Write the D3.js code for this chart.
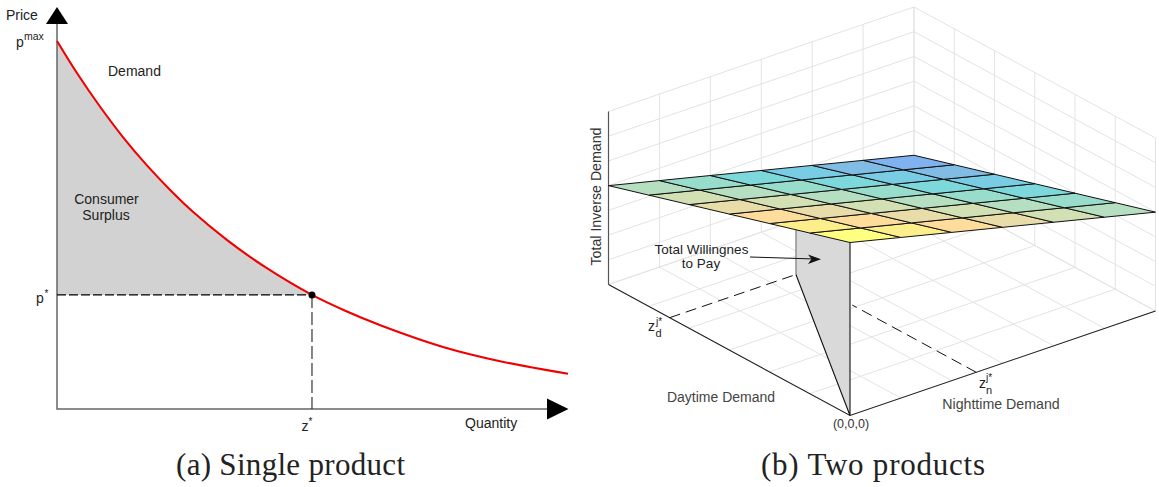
<!DOCTYPE html>
<html>
<head>
<meta charset="utf-8">
<script src="https://d3js.org/d3.v7.min.js"></script>
<style>
  body { margin: 0; background: #fff; }
  text { font-family: "Liberation Sans", sans-serif; fill: #222; }
  .caption { font-family: "Liberation Serif", serif; font-size: 31px; fill: #222; }
</style>
</head>
<body>
<svg id="chart" width="1159" height="487"></svg>
<script>
// Panel (a): demand curve
const quantity = [0, 3.9, 8.4, 12.9, 17.6, 22.1, 26.6, 33.3, 40.7, 49.9, 56.4, 63.4, 75.7, 86.7, 100];
const price = [100, 91.3, 82.2, 73.9, 66.2, 59.6, 53.6, 45.9, 38.6, 31, 26.7, 22.7, 16.8, 13, 9.6];
const zStar = 49.9;
const pStar = 31;

// Panel (b): surface heights, rows = daytime steps, columns = nighttime steps
const dayTicks = [0, 1, 2, 3, 4, 5, 6];
const nightTicks = [0, 1, 2, 3, 4, 5, 6];
const heightTicks = [0, 1, 2, 3, 4, 5, 6, 7];
const surfaceZ = [
    [7, 6.5, 6, 5.5, 5, 4.5, 4],
    [6.5, 6, 5.5, 5, 4.5, 4, 3.5],
    [6, 5.5, 5, 4.5, 4, 3.5, 3],
    [5.5, 5, 4.5, 4, 3.5, 3, 2.5],
    [5, 4.5, 4, 3.5, 3, 2.5, 2],
    [4.5, 4, 3.5, 3, 2.5, 2, 1.5],
    [4, 3.5, 3, 2.5, 2, 1.5, 1]
];
const colorLevels = [6.5, 6, 5.5, 5, 4.5, 4, 3.5, 3, 2.5, 2, 1.5];
const colorValues = ["#ffff80", "#fdee8c", "#fddc9c", "#e8dca8", "#d2e0b4", "#b5dfc0", "#98dccc", "#7dd8dc", "#78cce4", "#80bce4", "#7fb2ee"];
const dayStar = 4.48;
const nightStar = 2.48;
const starHeight = 3.52;

const svg = d3.select("#chart");

// ---------- Panel (a) ----------
const x = d3.scaleLinear().domain([0, 100]).range([57, 568]);
const y = d3.scaleLinear().domain([0, 100]).range([409, 41]);
const demand = quantity.map((q, i) => ({ q: q, p: price[i] }));

const left = svg.append("g");

left.append("path")
    .datum(demand.filter(d => d.q <= zStar))
    .attr("fill", "#d2d2d2")
    .attr("d", d3.area().curve(d3.curveCatmullRom)
        .x(d => x(d.q))
        .y0(y(pStar))
        .y1(d => y(d.p)));

left.append("path")
    .attr("d", `M${x(0)},24V${y(0)}H548`)
    .attr("fill", "none")
    .attr("stroke", "#666")
    .attr("stroke-width", 1.5);

left.append("path")
    .attr("d", "M57,7L68,24H46Z")
    .attr("fill", "#000");
left.append("path")
    .attr("d", "M568.5,409L547,398.5V419.5Z")
    .attr("fill", "#000");

left.append("path")
    .attr("d", `M${x(0)},${y(pStar)}H${x(zStar)}`)
    .attr("stroke", "#000")
    .attr("stroke-width", 1.1)
    .attr("stroke-dasharray", "9,3");
left.append("path")
    .attr("d", `M${x(zStar)},${y(pStar)}V${y(0)}`)
    .attr("stroke", "#222")
    .attr("stroke-width", 1.1)
    .attr("stroke-dasharray", "13,4");

left.append("path")
    .datum(demand)
    .attr("fill", "none")
    .attr("stroke", "#f00000")
    .attr("stroke-width", 2.1)
    .attr("d", d3.line().curve(d3.curveCatmullRom).x(d => x(d.q)).y(d => y(d.p)));

left.append("circle")
    .attr("cx", x(zStar))
    .attr("cy", y(pStar))
    .attr("r", 3.5)
    .attr("fill", "#000");

// ---------- Panel (b) ----------
const dayX = d3.scaleLinear().domain([0, 6]).range([0, -241.5]);
const dayY = d3.scaleLinear().domain([0, 6]).range([0, -131]);
const nightX = d3.scaleLinear().domain([0, 6]).range([0, 305.5]);
const nightY = d3.scaleLinear().domain([0, 6]).range([0, -104.5]);
const heightY = d3.scaleLinear().domain([0, 7]).range([0, -173]);

// floor coordinates + height to page position
function project(d, n, h) {
    return [850 + dayX(d) + nightX(n), 415.5 + dayY(d) + nightY(n) + heightY(h)];
}
const line3d = pts => "M" + pts.map(p => project(p[0], p[1], p[2]).join(",")).join("L");

const right = svg.append("g");
const grid = right.append("g")
    .attr("fill", "none")
    .attr("stroke", "#e3e3e3")
    .attr("stroke-width", 1);

// back-left wall, back-right wall, floor
heightTicks.forEach(h => {
    grid.append("path").attr("d", line3d([[6, 0, h], [6, 6, h], [0, 6, h]]));
});
nightTicks.forEach(n => {
    grid.append("path").attr("d", line3d([[6, n, 0], [6, n, 7]]));
    grid.append("path").attr("d", line3d([[0, n, 0], [6, n, 0]]));
});
dayTicks.forEach(d => {
    grid.append("path").attr("d", line3d([[d, 6, 0], [d, 6, 7]]));
    grid.append("path").attr("d", line3d([[d, 0, 0], [d, 6, 0]]));
});

// box edges that carry the axes
right.append("path")
    .attr("d", line3d([[6, 0, 7], [6, 0, 0]]))
    .attr("fill", "none")
    .attr("stroke", "#555")
    .attr("stroke-width", 1.2);
right.append("path")
    .attr("d", line3d([[6, 0, 0], [0, 0, 0], [0, 6, 0]]))
    .attr("fill", "none")
    .attr("stroke", "#222")
    .attr("stroke-width", 1.1);

// dashed guides on the floor
right.append("path")
    .attr("d", line3d([[dayStar, 0, 0], [dayStar, nightStar, 0]]))
    .attr("stroke", "#111")
    .attr("stroke-width", 1)
    .attr("stroke-dasharray", "11,6");
right.append("path")
    .attr("d", line3d([[0, nightStar, 0], [3.08, nightStar, 0]]))
    .attr("stroke", "#111")
    .attr("stroke-width", 1)
    .attr("stroke-dasharray", "11,6");

// the grey wall under the surface
right.append("path")
    .attr("d", line3d([[0, 0, 0], [dayStar, nightStar, 0], [dayStar, nightStar, starHeight], [0, 0, 7]]) + "Z")
    .attr("fill", "#d9d9d9")
    .attr("stroke", "none");
right.append("path")
    .attr("d", line3d([[dayStar, nightStar, starHeight], [dayStar, nightStar, 0]]))
    .attr("stroke", "#666")
    .attr("stroke-width", 1);
right.append("path")
    .attr("d", line3d([[dayStar, nightStar, 0], [0, 0, 0], [0, 0, 7]]))
    .attr("fill", "none")
    .attr("stroke", "#111")
    .attr("stroke-width", 1.1);

// surface cells
const color = d3.scaleLinear().domain(colorLevels).range(colorValues);
const cells = [];
surfaceZ.slice(0, -1).forEach((row, i) => {
    row.slice(0, -1).forEach((v, j) => {
        const corners = [[i, j, v], [i + 1, j, surfaceZ[i + 1][j]], [i + 1, j + 1, surfaceZ[i + 1][j + 1]], [i, j + 1, row[j + 1]]];
        cells.push({ corners: corners, mean: d3.mean(corners, c => c[2]) });
    });
});
right.append("g").selectAll("path")
    .data(cells)
    .join("path")
    .attr("d", d => line3d(d.corners) + "Z")
    .attr("fill", d => color(d.mean))
    .attr("stroke", "#111")
    .attr("stroke-width", 1)
    .attr("stroke-linejoin", "round");

// annotation arrow
right.append("path")
    .attr("d", "M750,257L815,259")
    .attr("stroke", "#111")
    .attr("stroke-width", 1)
    .attr("fill", "none");
right.append("path")
    .attr("d", "M821,259.2L808,254.5L811.5,259L808,264Z")
    .attr("fill", "#111");

// ---------- Text ----------
function label(txt, px, py, size, anchor, fill) {
    return svg.append("text")
        .attr("x", px)
        .attr("y", py)
        .attr("font-size", size)
        .attr("text-anchor", anchor || "start")
        .style("fill", fill || "#222")
        .text(txt);
}
label("Price", 6, 20, 14);
label("p", 16, 47, 14);
label("max", 24, 40, 10.5);
label("Demand", 108, 76, 14);
label("Consumer", 106.5, 204, 14, "middle");
label("Surplus", 106, 220, 14, "middle");
label("p", 36, 303, 14);
label("*", 44.5, 297, 10);
label("z", 301.5, 431, 14);
label("*", 308.5, 425, 10);
label("Quantity", 465, 428, 14);

svg.append("text")
    .attr("transform", "translate(601,196.5) rotate(-90)")
    .attr("text-anchor", "middle")
    .attr("font-size", 14.2)
    .style("fill", "#333")
    .text("Total Inverse Demand");
label("Total Willingnes", 701.5, 254, 13.5, "middle");
label("to Pay", 701, 268, 13.5, "middle");
label("z", 648, 331, 14);
label("j*", 656, 325, 10);
label("d", 655.5, 336.5, 11);
label("Daytime Demand", 721, 402, 14, "middle", "#444");
label("(0,0,0)", 851, 428, 12.5, "middle", "#333");
label("z", 979, 388, 14);
label("j*", 986, 381, 10);
label("n", 986, 393.5, 11);
label("Nighttime Demand", 1001, 409, 14.2, "middle", "#444");

svg.append("text").attr("class", "caption").attr("x", 176).attr("y", 475)
    .attr("textLength", 229).attr("lengthAdjust", "spacing").text("(a) Single product");
svg.append("text").attr("class", "caption").attr("x", 761).attr("y", 475)
    .attr("textLength", 224).attr("lengthAdjust", "spacing").text("(b) Two products");
</script>
</body>
</html>
